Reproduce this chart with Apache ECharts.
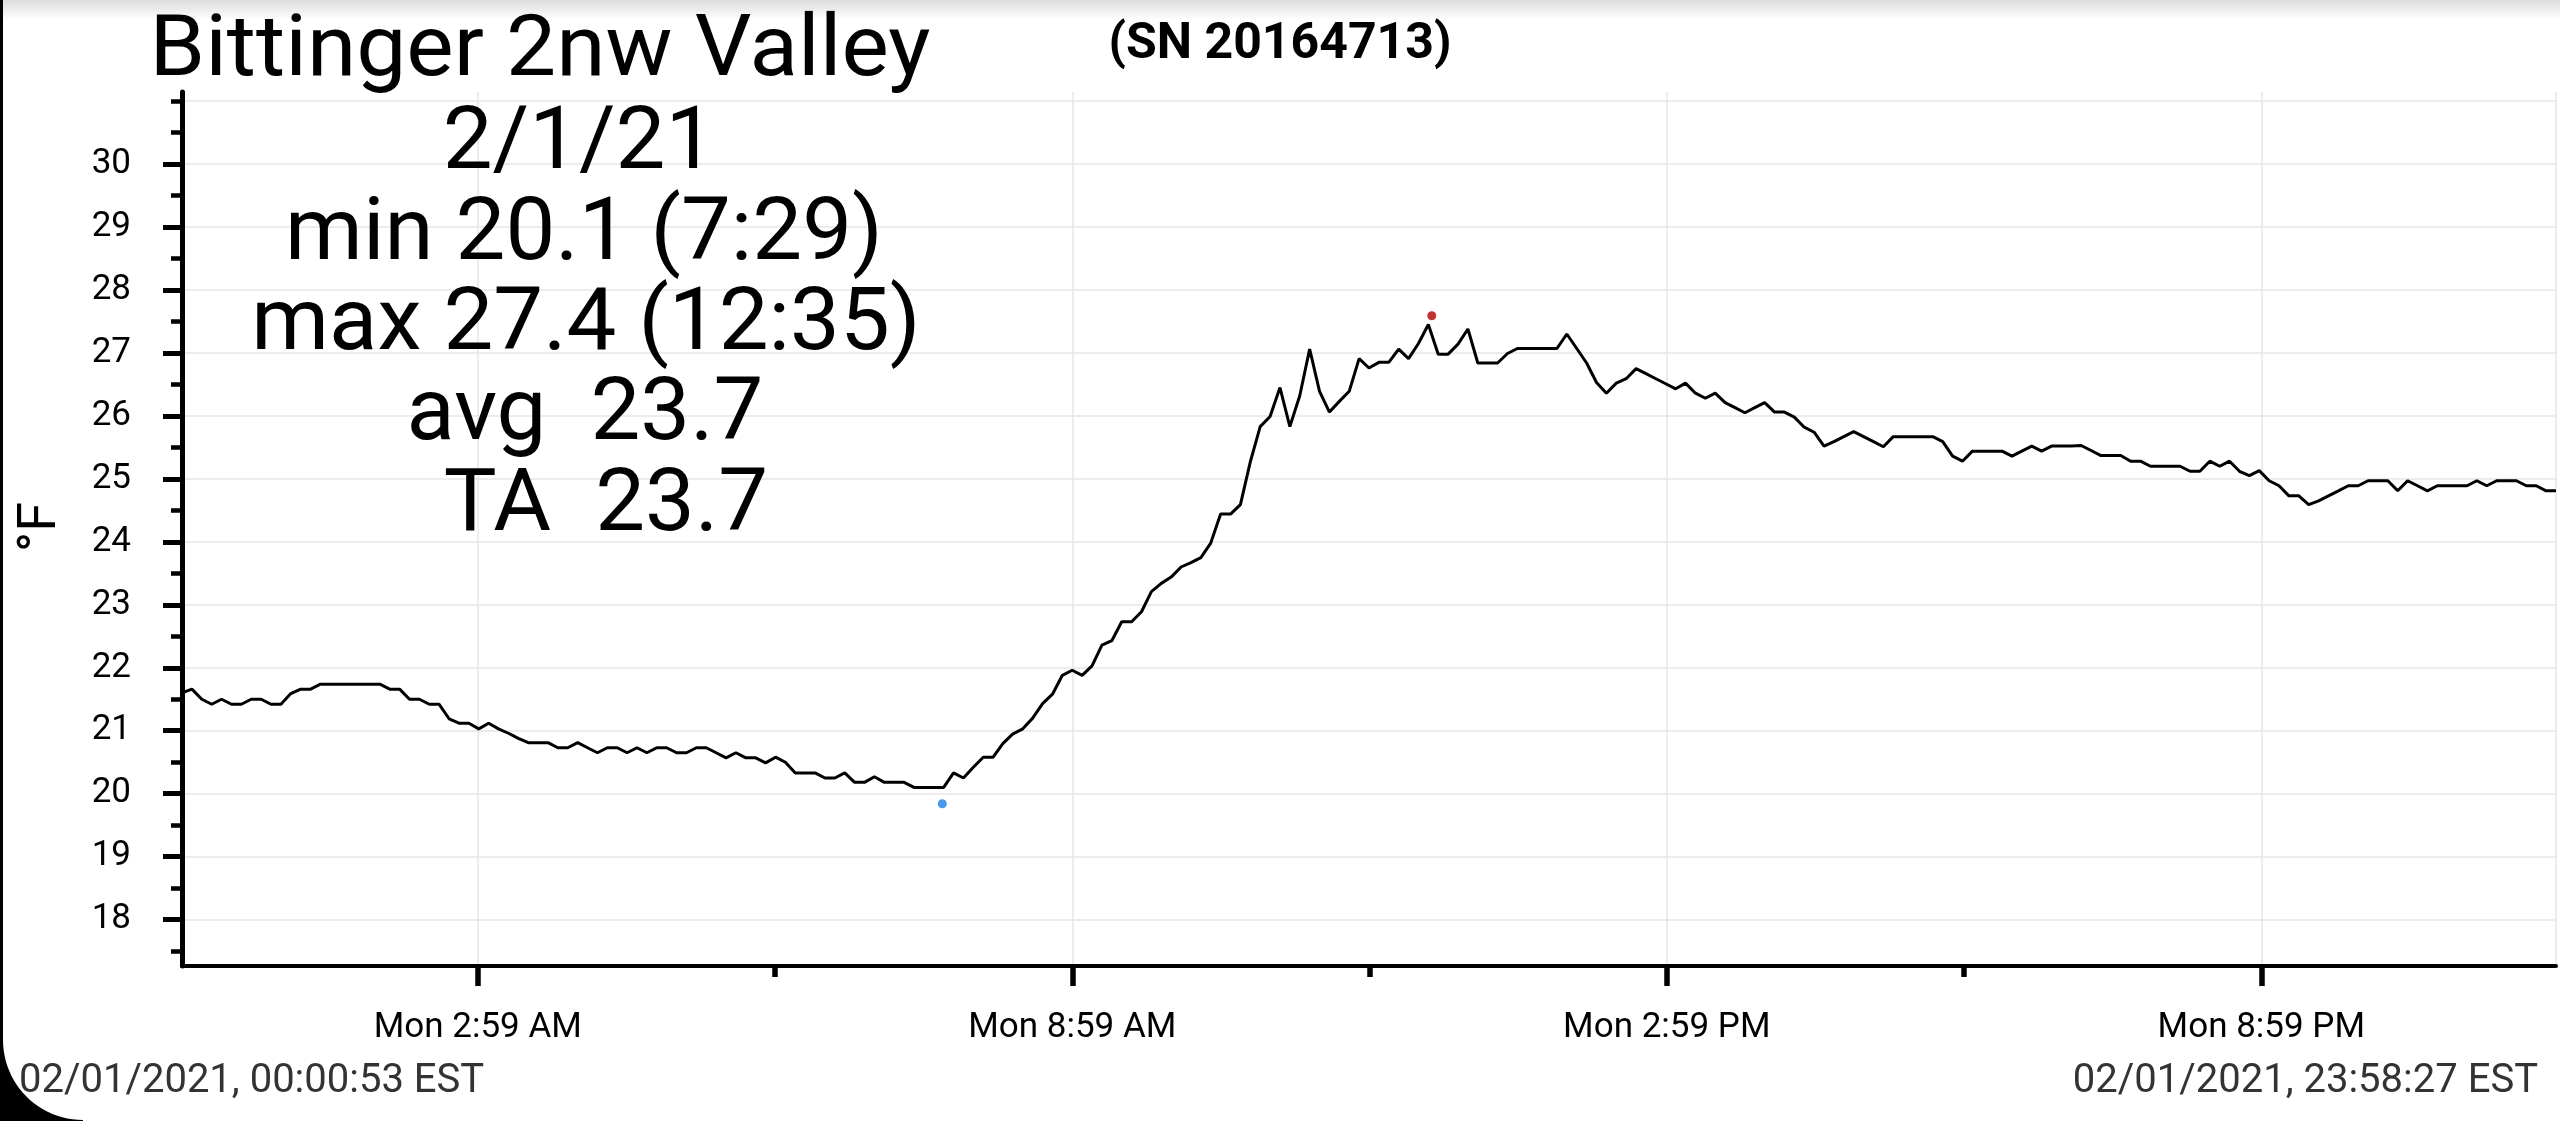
<!DOCTYPE html>
<html>
<head>
<meta charset="utf-8">
<script src="https://cdn.jsdelivr.net/npm/echarts@6/dist/echarts.min.js"></script>
<style>
html,body{margin:0;padding:0;background:#fff;overflow:hidden;}
#chart{width:2560px;height:1121px;}
</style>
</head>
<body>
<div id="chart"></div>
<script>
// ---------- data ----------
const stationTitle = 'Bittinger 2nw Valley';
const serialLabel = '(SN 20164713)';
const statLines = ['2/1/21', 'min 20.1 (7:29)', 'max 27.4 (12:35)', 'avg  23.7', 'TA  23.7'];
const startStamp = '02/01/2021, 00:00:53 EST';
const endStamp = '02/01/2021, 23:58:27 EST';
const firstSample = '00:00:53';
const lastSample = '23:58:27';
const yAxisName = '°F';

// temperature readings (°F), evenly logged from firstSample to lastSample
const temps = [
  21.6, 21.66, 21.5, 21.42, 21.5, 21.42, 21.42, 21.5, 21.5, 21.42,
  21.42, 21.59, 21.66, 21.66, 21.74, 21.74, 21.74, 21.74, 21.74, 21.74,
  21.74, 21.66, 21.66, 21.5, 21.5, 21.42, 21.42, 21.19, 21.12, 21.12,
  21.03, 21.12, 21.03, 20.96, 20.88, 20.81, 20.81, 20.81, 20.73, 20.73,
  20.81, 20.73, 20.65, 20.73, 20.73, 20.65, 20.73, 20.65,
  20.73, 20.73, 20.65, 20.65, 20.73, 20.73, 20.65, 20.57, 20.65, 20.57,
  20.57, 20.49, 20.58, 20.5, 20.33, 20.33, 20.33, 20.25, 20.25, 20.33,
  20.18, 20.18, 20.27, 20.18, 20.18, 20.18, 20.1, 20.1, 20.1, 20.1,
  20.33, 20.25, 20.42, 20.58, 20.58, 20.8, 20.95, 21.03, 21.2, 21.43,
  21.58, 21.88, 21.96, 21.88, 22.03, 22.36, 22.43, 22.73, 22.73,
  22.89, 23.21, 23.34, 23.44, 23.6, 23.67, 23.75, 23.98, 24.44, 24.44,
  24.59, 25.27, 25.83, 25.99, 26.45, 25.83, 26.32, 27.06, 26.39, 26.06,
  26.23, 26.39, 26.91, 26.76, 26.85, 26.85, 27.06, 26.91, 27.15, 27.45,
  26.98, 26.98, 27.14, 27.38, 26.84, 26.84, 26.84, 26.99, 27.07, 27.07,
  27.07, 27.07, 27.07, 27.3, 27.07, 26.84, 26.53,
  26.36, 26.52, 26.59, 26.75, 26.67, 26.59, 26.51, 26.43, 26.52, 26.36,
  26.28, 26.36, 26.21, 26.13, 26.05, 26.13, 26.21, 26.06, 26.06, 25.98,
  25.82, 25.74, 25.52, 25.59, 25.67, 25.75, 25.67, 25.59, 25.51, 25.67,
  25.67, 25.67, 25.67, 25.67, 25.59, 25.36, 25.28, 25.44, 25.44, 25.44,
  25.44, 25.36, 25.44, 25.52, 25.44, 25.52, 25.52, 25.52,
  25.53, 25.45, 25.37, 25.37, 25.37, 25.28, 25.28, 25.2, 25.2, 25.2,
  25.2, 25.12, 25.12, 25.28, 25.2, 25.28, 25.12, 25.05, 25.13, 24.97,
  24.89, 24.73, 24.73, 24.59, 24.65, 24.73, 24.81, 24.89, 24.89, 24.97,
  24.97, 24.97, 24.81, 24.97, 24.89, 24.81, 24.89, 24.89, 24.89, 24.89,
  24.97, 24.89, 24.97, 24.97, 24.97, 24.89, 24.89, 24.81, 24.81
];

const minMark = ['07:41:17', 19.84];
const maxMark = ['12:37:41', 27.59];

const yAxisMin = 17.264;
const yAxisMax = 31.143;
const yLabelValues = [18, 19, 20, 21, 22, 23, 24, 25, 26, 27, 28, 29, 30];
const yGridValues = [18, 19, 20, 21, 22, 23, 24, 25, 26, 27, 28, 29, 30, 31];
const yMinorTickValues = [17.5, 18.5, 19.5, 20.5, 21.5, 22.5, 23.5, 24.5, 25.5, 26.5, 27.5, 28.5, 29.5, 30.5, 31];

const xMajorTickTimes = ['02:59:59', '08:59:59', '14:59:59', '20:59:59'];
const xMajorLabels = ['Mon 2:59 AM', 'Mon 8:59 AM', 'Mon 2:59 PM', 'Mon 8:59 PM'];
const xMinorTickTimes = ['05:59:59', '11:59:59', '17:59:59'];

// ---------- helpers ----------
function toHours(s) {
  const p = s.split(':').map(Number);
  return p[0] + p[1] / 60 + p[2] / 3600;
}
const x0 = toHours(firstSample);
const x1 = toHours(lastSample);
const step = (x1 - x0) / (temps.length - 1);
const lineData = temps.map((v, i) => [x0 + i * step, v]);
const majorH = xMajorTickTimes.map(toHours);
const minorH = xMinorTickTimes.map(toHours);

const FONT = 'Roboto, "Noto Sans", sans-serif';

const chart = echarts.init(document.getElementById('chart'), null, {renderer: 'canvas', width: 2560, height: 1121});

function overlayX(values, len) {
  return {
    type: 'value', gridIndex: 0, position: 'bottom', min: x0, max: x1,
    axisLine: {show: false, onZero: false},
    axisLabel: {show: false},
    splitLine: {show: false},
    axisTick: {show: true, customValues: values, length: len, lineStyle: {color: '#000', width: 5.5}}
  };
}
function overlayY(values, len, w) {
  return {
    type: 'value', gridIndex: 0, position: 'left', min: yAxisMin, max: yAxisMax,
    axisLine: {show: false, onZero: false},
    axisLabel: {show: false},
    splitLine: {show: false},
    axisTick: {show: true, customValues: values, length: len, lineStyle: {color: '#000', width: w}}
  };
}

// decorative rounded screen corner (bottom-left)
const cornerPts = [[0, 1121], [0, 1040], [3, 1040]];
for (let k = 1; k <= 24; k++) {
  const a = Math.PI - (k / 24) * (Math.PI / 2);
  cornerPts.push([83 + 80 * Math.cos(a), 1040 + 80 * Math.sin(Math.PI - a)]);
}
cornerPts.push([83, 1121]);

const statCenters = [579, 584, 586, 585, 606];
const statY = [146, 237, 327, 417.5, 508.5];

const graphics = [
  {type: 'rect', z: -5, shape: {x: 0, y: 0, width: 2560, height: 20},
   style: {fill: new echarts.graphic.LinearGradient(0, 0, 0, 1, [{offset: 0, color: '#dcdcdc'}, {offset: 1, color: '#ffffff'}])}},
  {type: 'text', z: 100, x: 540, y: 54, scaleX: 1.05,
   style: {text: stationTitle, fontSize: 85, fontFamily: FONT, fill: '#000', align: 'center', verticalAlign: 'middle', textAlign: 'center', textVerticalAlign: 'middle'}},
  {type: 'text', z: 100, x: 1280, y: 45,
   style: {text: serialLabel, fontSize: 50, fontWeight: 'bold', fontFamily: FONT, fill: '#000', align: 'center', verticalAlign: 'middle', textAlign: 'center', textVerticalAlign: 'middle'}},
  {type: 'text', z: 100, x: 41, y: 527, rotation: Math.PI / 2,
   style: {text: yAxisName, fontSize: 54, fontFamily: FONT, fill: '#000', align: 'center', verticalAlign: 'middle', textAlign: 'center', textVerticalAlign: 'middle'}},
  {type: 'text', z: 100, x: 19, y: 1082,
   style: {text: startStamp, fontSize: 40, fontFamily: FONT, fill: '#333', align: 'left', verticalAlign: 'middle', textAlign: 'left', textVerticalAlign: 'middle'}},
  {type: 'text', z: 100, x: 2538, y: 1082,
   style: {text: endStamp, fontSize: 40, fontFamily: FONT, fill: '#333', align: 'right', verticalAlign: 'middle', textAlign: 'right', textVerticalAlign: 'middle'}},
  {type: 'rect', z: 200, shape: {x: 0, y: 0, width: 3, height: 1121}, style: {fill: '#000'}},
  {type: 'polygon', z: 200, shape: {points: cornerPts}, style: {fill: '#000'}}
];
statLines.forEach((t, i) => {
  graphics.push({type: 'text', z: 100, x: statCenters[i], y: statY[i], scaleX: 1.02,
    style: {text: t, fontSize: 87, fontFamily: FONT, fill: '#000', align: 'center', verticalAlign: 'middle', textAlign: 'center', textVerticalAlign: 'middle'}});
});

const option = {
  backgroundColor: '#ffffff',
  animation: false,
  textStyle: {fontFamily: FONT},
  grid: {left: 182, right: 4, top: 92, bottom: 155, containLabel: false, outerBoundsMode: 'none'},
  xAxis: [
    {
      type: 'value', min: x0, max: x1, position: 'bottom',
      axisLine: {show: true, onZero: false, lineStyle: {color: '#000', width: 4}},
      axisTick: {show: false, customValues: majorH.concat([x1])},
      axisLabel: {
        show: true, customValues: majorH, margin: 45, fontSize: 35, color: '#000', fontFamily: FONT,
        formatter: function (v) {
          for (let i = 0; i < majorH.length; i++) { if (Math.abs(majorH[i] - v) < 1e-4) return xMajorLabels[i]; }
          return '';
        }
      },
      splitLine: {show: true, lineStyle: {color: '#e6e6e6', width: 1.5}}
    },
    overlayX(majorH, 20),
    overlayX(minorH, 11)
  ],
  yAxis: [
    {
      type: 'value', min: yAxisMin, max: yAxisMax, position: 'left',
      axisLine: {show: true, onZero: false, lineStyle: {color: '#000', width: 5}},
      axisTick: {show: false, customValues: yGridValues},
      axisLabel: {show: true, customValues: yLabelValues, margin: 51, fontSize: 35, color: '#000', fontFamily: FONT,
        formatter: function (v) { return String(Math.round(v)); }},
      splitLine: {show: true, lineStyle: {color: '#e6e6e6', width: 1.5}}
    },
    overlayY(yLabelValues, 19, 5),
    overlayY(yMinorTickValues, 11, 4.5)
  ],
  series: [
    {
      type: 'line', xAxisIndex: 0, yAxisIndex: 0, data: lineData,
      showSymbol: false, symbol: 'none', silent: true, z: 3,
      lineStyle: {color: '#000', width: 3}
    },
    {
      type: 'scatter', xAxisIndex: 0, yAxisIndex: 0, silent: true, z: 4, symbolSize: 9,
      data: [{value: [toHours(minMark[0]), minMark[1]], itemStyle: {color: '#1a7fe6'}},
             {value: [toHours(maxMark[0]), maxMark[1]], itemStyle: {color: '#b00000'}}]
    }
  ],
  graphic: graphics
};
chart.setOption(option);
</script>
</body>
</html>
